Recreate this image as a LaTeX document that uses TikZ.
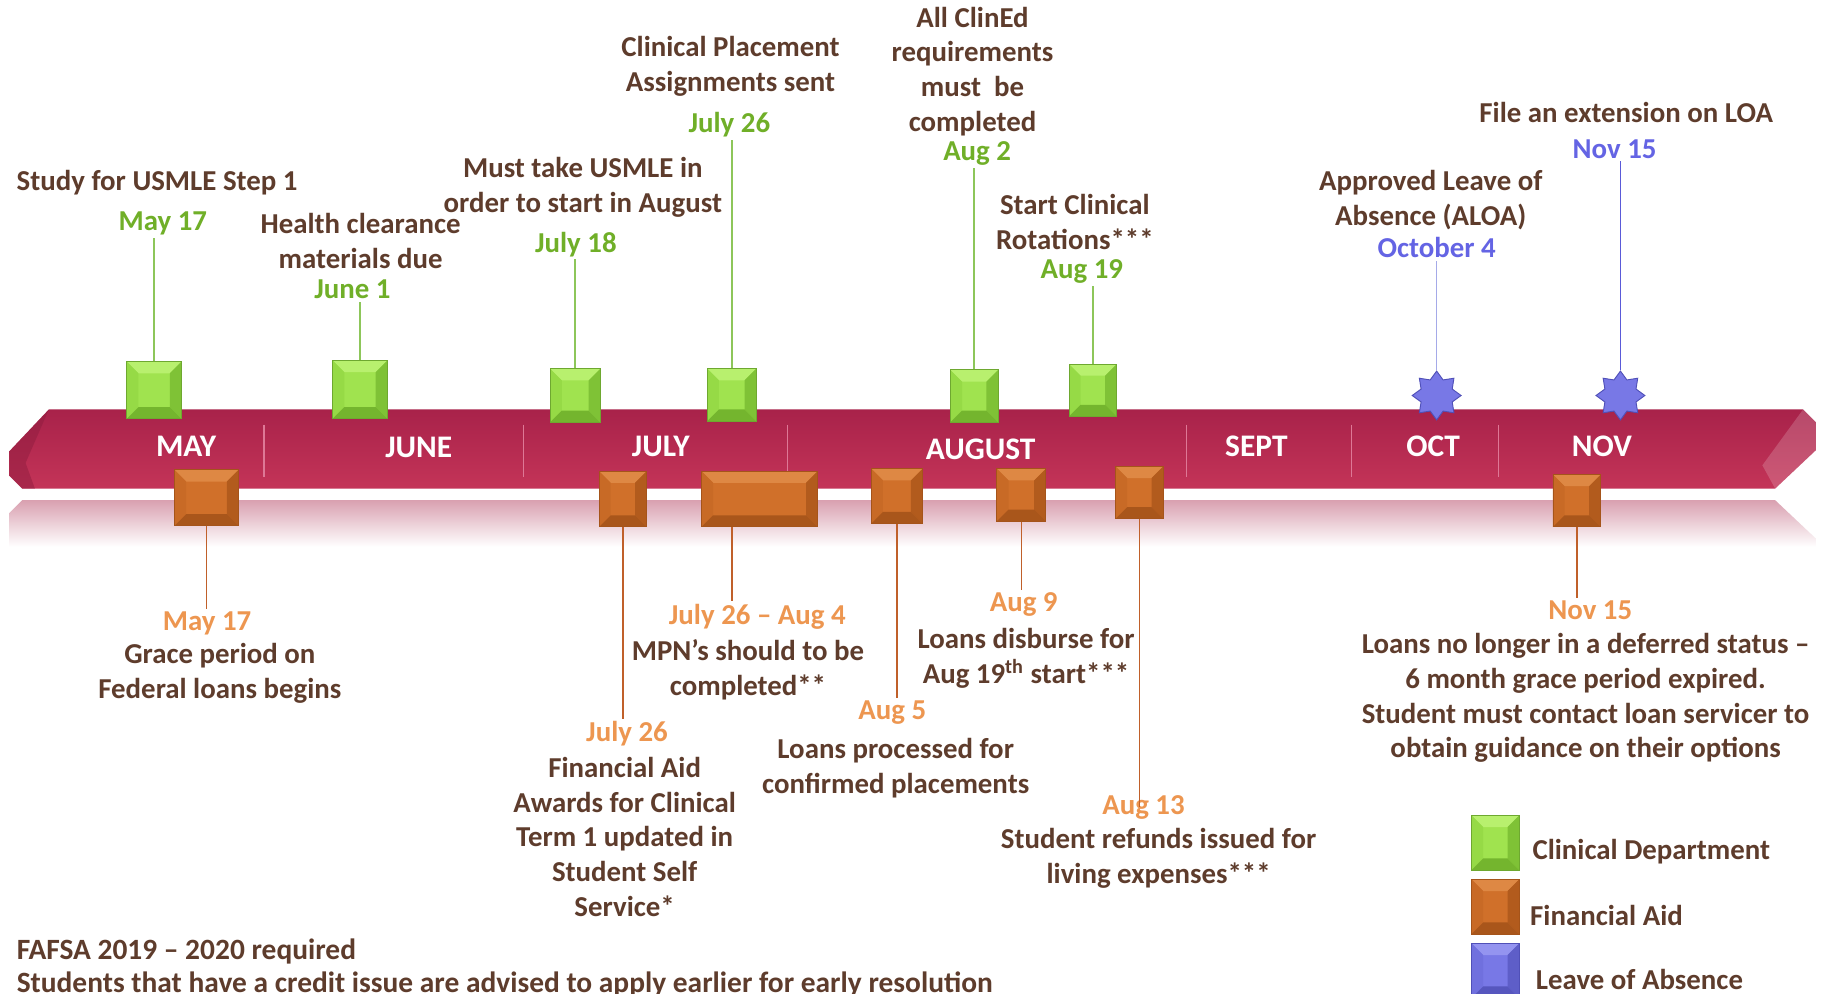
\documentclass[tikz,border=0pt]{standalone}
\usepackage{fontspec}
\setmainfont{Carlito}
\usetikzlibrary{shapes.geometric,calc}
\definecolor{tbrown}{RGB}{94,60,44}
\definecolor{dgreen}{RGB}{112,175,40}
\definecolor{dorange}{RGB}{237,150,80}
\definecolor{dblue}{RGB}{100,100,228}
\definecolor{ribtop}{RGB}{168,34,74}
\definecolor{ribbot}{RGB}{196,52,88}
\definecolor{refl}{RGB}{217,160,176}
\definecolor{divc}{RGB}{222,120,150}
\definecolor{gface}{RGB}{160,227,79}
\definecolor{gtop}{RGB}{184,240,110}
\definecolor{gleft}{RGB}{150,218,70}
\definecolor{gright}{RGB}{127,194,54}
\definecolor{gbot}{RGB}{116,181,46}
\definecolor{gborder}{RGB}{110,168,48}
\definecolor{oface}{RGB}{208,112,42}
\definecolor{otop}{RGB}{222,136,68}
\definecolor{oleft}{RGB}{200,106,38}
\definecolor{oright}{RGB}{178,91,29}
\definecolor{obot}{RGB}{169,86,27}
\definecolor{oborder}{RGB}{165,84,26}
\definecolor{bface}{RGB}{120,120,230}
\definecolor{btop}{RGB}{148,148,240}
\definecolor{bleft}{RGB}{112,112,222}
\definecolor{bright}{RGB}{94,94,200}
\definecolor{bbot}{RGB}{86,86,190}
\definecolor{bborder}{RGB}{80,80,184}
\definecolor{glinec}{RGB}{141,198,90}
\definecolor{olinec}{RGB}{192,96,42}
\definecolor{blinel}{RGB}{165,170,232}
\definecolor{blined}{RGB}{90,90,216}
\tikzset{
  txt/.style={font=\bfseries\fontsize{12.4}{15}\selectfont, text=tbrown, align=center, inner sep=1pt},
  gd/.style={txt, text=dgreen},
  od/.style={txt, text=dorange},
  bd/.style={txt, text=dblue},
  mon/.style={font=\bfseries\fontsize{13.5}{16}\selectfont, text=white, inner sep=1pt},
  bevbox/.style n args={6}{draw=#6, line width=0.4pt, fill=#1, inner sep=0pt,
    path picture={
      \coordinate (pnw) at (path picture bounding box.north west);
      \coordinate (pne) at (path picture bounding box.north east);
      \coordinate (psw) at (path picture bounding box.south west);
      \coordinate (pse) at (path picture bounding box.south east);
      \fill[#2] (pnw) -- (pne) -- ([shift={(-5pt,-5pt)}]pne) -- ([shift={(5pt,-5pt)}]pnw) -- cycle;
      \fill[#3] (pnw) -- (psw) -- ([shift={(5pt,5pt)}]psw) -- ([shift={(5pt,-5pt)}]pnw) -- cycle;
      \fill[#4] (pne) -- (pse) -- ([shift={(-5pt,5pt)}]pse) -- ([shift={(-5pt,-5pt)}]pne) -- cycle;
      \fill[#5] (psw) -- (pse) -- ([shift={(-5pt,5pt)}]pse) -- ([shift={(5pt,5pt)}]psw) -- cycle;
    }},
  gbox/.style={bevbox={gface}{gtop}{gleft}{gright}{gbot}{gborder}},
  obox/.style={bevbox={oface}{otop}{oleft}{oright}{obot}{oborder}},
  lbox/.style={bevbox={bface}{btop}{bleft}{bright}{bbot}{bborder}},
  gline/.style={draw=glinec, line width=0.7pt},
  oline/.style={draw=olinec, line width=0.7pt},
  divline/.style={draw=divc, line width=0.5pt},
  bstar/.style={star, star points=8, star point ratio=1.45, minimum size=21pt, inner sep=0pt,
    fill=bface, draw=bborder, line width=0.4pt},
}
\begin{document}
\begin{tikzpicture}[x=0.5pt,y=-0.5pt]
\useasboundingbox (0,0) rectangle (1568,854);
\clip (0,0) rectangle (1568,854);
\fill[white] (0,0) rectangle (1568,854);

% reflection
\shade[top color=refl, bottom color=white] (19,430) -- (1526,430) -- (1561,463) -- (1561,470) -- (8,470) -- (8,441) -- cycle;

% ribbon
\shade[top color=ribtop, bottom color=ribbot] (42,352) -- (1550,352) -- (1561,363) -- (1561,387) -- (1526,420) -- (19,420) -- (8,409) -- (8,388) -- cycle;
\fill[ribtop!85!black, opacity=0.5] (42,352) -- (8,388) -- (8,409) -- (19,420) -- (30,420) -- (22,398) -- cycle;
\fill[white, opacity=0.18] (1550,352) -- (1561,363) -- (1561,387) -- (1526,420) -- (1515,400) -- cycle;

% dividers
\draw[divline] (227,365) -- (227,410);
\draw[divline] (450,365) -- (450,410);
\draw[divline] (677,365) -- (677,410);
\draw[divline] (1020,365) -- (1020,410);
\draw[divline] (1162,365) -- (1162,410);
\draw[divline] (1288,365) -- (1288,410);

% months
\node[mon] (mmay) at (160,384) {MAY};
\node[mon] (mjun) at (360,385) {JUNE};
\node[mon] (mjul) at (568,384) {JULY};
\node[mon] (maug) at (843,386) {AUGUST};
\node[mon] (msep) at (1080,384) {SEPT};
\node[mon] (moct) at (1232,384) {OCT};
\node[mon] (mnov) at (1377,384) {NOV};

% upper texts
\node[txt] (study) at (135,157) {Study for USMLE Step 1};
\node[gd] (d1) at (140,192) {May 17};
\node[txt] (health) at (310,207) {Health clearance\\materials due};
\node[gd] (d2) at (303,249) {June 1};
\node[txt] (usmle) at (501,161) {Must take USMLE in\\order to start in August};
\node[gd] (d3) at (495,210) {July 18};
\node[txt] (place) at (628,57) {Clinical Placement\\Assignments sent};
\node[gd] (d4) at (627,107) {July 26};
\node[txt] (clined) at (836,61.5) {All ClinEd\\requirements\\must\ \ be\\completed};
\node[gd] (d5) at (840,132) {Aug 2};
\node[txt] (start) at (924,191) {Start Clinical\\Rotations***};
\node[gd] (d6) at (930,233) {Aug 19};
\node[txt] (aloa) at (1230,172) {Approved Leave of\\Absence (ALOA)};
\node[bd] (d7) at (1235,213) {October 4};
\node[txt] (ext) at (1398,97) {File an extension on LOA};
\node[bd] (d8) at (1388,128) {Nov 15};

% green boxes
\node[gbox, minimum width=23.5pt, minimum height=24.5pt] (g1) at (132.5,335.5) {};
\node[gbox, minimum width=23.5pt, minimum height=25pt] (g2) at (309.5,335) {};
\node[gbox, minimum width=21.5pt, minimum height=23pt] (g3) at (494.5,340) {};
\node[gbox, minimum width=21pt, minimum height=22.5pt] (g4) at (629,339.5) {};
\node[gbox, minimum width=20.5pt, minimum height=22.5pt] (g5) at (837.5,340.5) {};
\node[gbox, minimum width=20.5pt, minimum height=22.5pt] (g6) at (939.5,335.5) {};

\draw[gline] (g1.north) -- (g1.north |- d1.south);
\draw[gline] (g2.north) -- (g2.north |- d2.south);
\draw[gline] (g3.north) -- (g3.north |- d3.south);
\draw[gline] (g4.north) -- (g4.north |- d4.south);
\draw[gline] (g5.north) -- (g5.north |- d5.south);
\draw[gline] (g6.north) -- (g6.north |- d6.south);

% stars
\node[bstar] (s1) at (1235,340) {};
\node[bstar] (s2) at (1393,340) {};
\draw[draw=blinel, line width=0.7pt] (s1.north) -- (s1.north |- d7.south);
\draw[draw=blined, line width=0.7pt] (s2.north) -- (s2.north |- d8.south);

% orange boxes
\node[obox, minimum width=27.5pt, minimum height=24pt] (o1) at (177.5,428) {};
\node[obox, minimum width=20.5pt, minimum height=24pt] (o2) at (535.5,429) {};
\node[obox, minimum width=50pt, minimum height=24pt] (o3) at (653,429) {};
\node[obox, minimum width=22pt, minimum height=23.5pt] (o4) at (771,426.5) {};
\node[obox, minimum width=21pt, minimum height=22.5pt] (o5) at (878,425.5) {};
\node[obox, minimum width=20.5pt, minimum height=22.5pt] (o6) at (979.5,423.5) {};
\node[obox, minimum width=20.5pt, minimum height=22.5pt] (o7) at (1355.5,430.5) {};

% lower texts
\node[od] (e1) at (178,536) {May 17};
\node[txt] (grace) at (189,579) {Grace period on\\Federal loans begins};
\node[od] (e2) at (539,631) {July 26};
\node[txt] (finaid) at (537,719.5) {Financial Aid\\Awards for Clinical\\Term 1 updated in\\Student Self\\Service*};
\node[od] (e3) at (651,530) {July 26 – Aug 4};
\node[txt] (mpn) at (643,576) {MPN’s should to be\\completed**};
\node[od] (e4) at (767,613) {Aug 5};
\node[txt] (proc) at (770,660.5) {Loans processed for\\confirmed placements};
\node[od] (e5) at (880,520) {Aug 9};
\node[txt] (disb) at (882,566) {Loans disburse for\\Aug 19\textsuperscript{th} start***};
\node[od] (e6) at (983,694) {Aug 13};
\node[txt] (refund) at (996,738) {Student refunds issued for\\living expenses***};
\node[od] (e7) at (1367,525) {Nov 15};
\node[txt] (nolong) at (1363,600) {Loans no longer in a deferred status –\\6 month grace period expired.\\Student must contact loan servicer to\\obtain guidance on their options};

\coordinate (o3a) at ([xshift=-12pt]o3.south);
\draw[oline] (o1.south) -- (o1.south |- e1.north);
\draw[oline] (o2.south) -- (o2.south |- e2.north);
\draw[oline] (o3a) -- (o3a |- e3.north);
\draw[oline] (o4.south) -- (o4.south |- e4.north);
\draw[oline] (o5.south) -- (o5.south |- e5.north);
\draw[oline] (o6.south) -- ([yshift=-6pt]o6.south |- e6.north);
\draw[oline] (o7.south) -- (o7.south |- e7.north);

% footnote
\node[txt, font=\bfseries\fontsize{12.65}{14}\selectfont, anchor=west, align=left] (fafsa) at (12,832) {FAFSA 2019 – 2020 required\\Students that have a credit issue are advised to apply earlier for early resolution};

% legend
\node[gbox, minimum width=20.5pt, minimum height=23.5pt] (lg) at (1285.5,724.5) {};
\node[obox, minimum width=20.5pt, minimum height=23.5pt] (lo) at (1285.5,779.5) {};
\node[lbox, minimum width=20.5pt, minimum height=23.5pt] (lb) at (1285.5,834.5) {};
\node[txt, anchor=west] (lgt) at (1315,732) {Clinical Department};
\node[txt, anchor=west] (lot) at (1313,787) {Financial Aid};
\node[txt, anchor=west] (lbt) at (1318,842) {Leave of Absence};
\end{tikzpicture}
\end{document}
